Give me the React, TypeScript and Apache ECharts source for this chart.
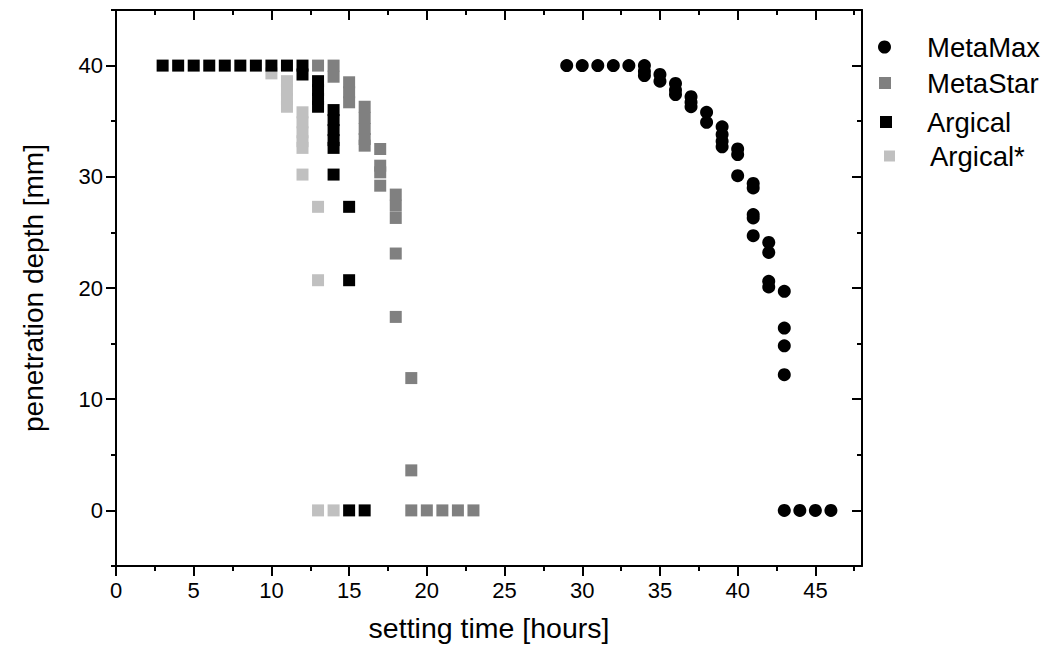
import React, { useEffect, useRef } from "react";
import * as echarts from "echarts";

// ---- data ----
const xMajorTicks = [0, 5, 10, 15, 20, 25, 30, 35, 40, 45];
const xMinorTicks = [2.5, 7.5, 12.5, 17.5, 22.5, 27.5, 32.5, 37.5, 42.5, 47.5];
const yMajorTicks = [0, 10, 20, 30, 40];
const yMinorTicks = [-5, 5, 15, 25, 35, 45];

const seriesNames = ["MetaMax", "MetaStar", "Argical", "Argical*"];

const metaMax: [number, number][] = [
  [29, 40], [30, 40], [31, 40], [32, 40], [33, 40],
  [34, 40], [34, 39.5], [34, 39.1],
  [35, 39.2], [35, 38.6],
  [36, 38.4], [36, 37.8], [36, 37.4],
  [37, 37.2], [37, 36.7], [37, 36.3],
  [38, 35.8], [38, 34.9],
  [39, 34.5], [39, 33.8], [39, 33.2], [39, 32.7],
  [40, 32.5], [40, 32.0], [40, 30.1],
  [41, 29.4], [41, 29.0], [41, 26.6], [41, 26.3], [41, 24.7],
  [42, 24.1], [42, 23.2], [42, 20.6], [42, 20.1],
  [43, 19.7], [43, 16.4], [43, 14.8], [43, 12.2],
  [43, 0], [44, 0], [45, 0], [46, 0],
];

const metaStar: [number, number][] = [
  [13, 40], [14, 40], [14, 39.0],
  [15, 38.5], [15, 37.6], [15, 36.7],
  [16, 36.3], [16, 35.3], [16, 34.3], [16, 33.4], [16, 32.8],
  [17, 32.5], [17, 31.0], [17, 30.4], [17, 29.2],
  [18, 28.4], [18, 27.4], [18, 26.3], [18, 23.1], [18, 17.4],
  [19, 11.9], [19, 3.6],
  [19, 0], [20, 0], [21, 0], [22, 0], [23, 0],
];

const argical: [number, number][] = [
  [3, 40], [4, 40], [5, 40], [6, 40], [7, 40], [8, 40], [9, 40], [10, 40], [11, 40],
  [12, 40], [12, 39.2],
  [13, 38.6], [13, 37.8], [13, 37.0], [13, 36.3],
  [14, 36.0], [14, 35.1], [14, 34.2], [14, 33.3], [14, 32.6],
  [14, 30.2],
  [15, 27.3], [15, 20.7],
  [15, 0], [16, 0],
];

const argicalStar: [number, number][] = [
  [10, 39.3],
  [11, 38.6], [11, 37.8], [11, 37.0], [11, 36.3],
  [12, 35.8], [12, 34.9], [12, 34.0], [12, 33.2], [12, 32.6],
  [12, 30.2],
  [13, 27.3], [13, 20.7],
  [13, 0], [14, 0],
];

const FONT = "'Liberation Sans', Arial, sans-serif";
const BLACK = "#000";
const axisLineStyle = { color: BLACK, width: 2 };

export default function App() {
  const ref = useRef<HTMLDivElement>(null);

  useEffect(() => {
    document.body.style.margin = "0";
    if (!ref.current) return;
    const chart = echarts.init(ref.current, undefined, { renderer: "svg" });

    const xBase = { type: "value", min: 0, max: 48, splitLine: { show: false } } as any;
    const yBase = { type: "value", min: -5, max: 45, splitLine: { show: false } } as any;

    const option: any = {
      animation: false,
      backgroundColor: "#fff",
      textStyle: { fontFamily: FONT },
      grid: { left: 116, right: 188, top: 10, bottom: 93, containLabel: false },
      xAxis: [
        {
          ...xBase,
          position: "bottom",
          axisLine: { show: true, onZero: false, lineStyle: axisLineStyle },
          axisTick: { show: true, inside: false, length: 10, customValues: xMajorTicks, lineStyle: axisLineStyle },
          axisLabel: { show: true, customValues: xMajorTicks, fontSize: 22, color: BLACK, margin: 13, fontFamily: FONT },
          name: "setting time [hours]",
          nameLocation: "middle",
          nameGap: 47,
          nameTextStyle: { fontSize: 28.5, color: BLACK, fontFamily: FONT },
        },
        {
          ...xBase,
          position: "bottom",
          axisLine: { show: false, onZero: false },
          axisTick: { show: true, inside: false, length: 5, customValues: xMinorTicks, lineStyle: axisLineStyle },
          axisLabel: { show: false },
        },
        {
          ...xBase,
          position: "top",
          axisLine: { show: true, onZero: false, lineStyle: axisLineStyle },
          axisTick: { show: true, inside: true, length: 10, customValues: xMajorTicks, lineStyle: axisLineStyle },
          axisLabel: { show: false },
        },
        {
          ...xBase,
          position: "top",
          axisLine: { show: false, onZero: false },
          axisTick: { show: true, inside: true, length: 5, customValues: xMinorTicks, lineStyle: axisLineStyle },
          axisLabel: { show: false },
        },
      ],
      yAxis: [
        {
          ...yBase,
          position: "left",
          axisLine: { show: true, onZero: false, lineStyle: axisLineStyle },
          axisTick: { show: true, inside: false, length: 10, customValues: yMajorTicks, lineStyle: axisLineStyle },
          axisLabel: { show: true, customValues: yMajorTicks, fontSize: 22, color: BLACK, margin: 13, fontFamily: FONT },
          name: "penetration depth [mm]",
          nameLocation: "middle",
          nameGap: 69,
          nameTextStyle: { fontSize: 28, color: BLACK, fontFamily: FONT },
        },
        {
          ...yBase,
          position: "left",
          axisLine: { show: false, onZero: false },
          axisTick: { show: true, inside: false, length: 5, customValues: yMinorTicks, lineStyle: axisLineStyle },
          axisLabel: { show: false },
        },
        {
          ...yBase,
          position: "right",
          axisLine: { show: true, onZero: false, lineStyle: axisLineStyle },
          axisTick: { show: true, inside: true, length: 10, customValues: yMajorTicks, lineStyle: axisLineStyle },
          axisLabel: { show: false },
        },
        {
          ...yBase,
          position: "right",
          axisLine: { show: false, onZero: false },
          axisTick: { show: true, inside: true, length: 5, customValues: yMinorTicks, lineStyle: axisLineStyle },
          axisLabel: { show: false },
        },
      ],
      legend: [
        { name: seriesNames[0], icon: "circle", left: 878, top: 32, w: 13, pad: 31 },
        { name: seriesNames[1], icon: "rect", left: 879, top: 68, w: 12, pad: 31 },
        { name: seriesNames[2], icon: "rect", left: 880, top: 107, w: 12, pad: 30 },
        { name: seriesNames[3], icon: "rect", left: 884, top: 141, w: 11, pad: 30 },
      ].map((l) => ({
        data: [{ name: l.name, icon: l.icon }],
        left: l.left,
        top: l.top,
        orient: "vertical",
        padding: 0,
        itemGap: 0,
        itemWidth: l.w,
        itemHeight: l.w,
        selectedMode: false,
        textStyle: { fontSize: 27.5, color: BLACK, fontFamily: FONT, lineHeight: 30, padding: [0, 0, 0, l.pad] },
      })),
      series: [
        {
          name: seriesNames[3],
          type: "scatter",
          data: argicalStar,
          symbol: "rect",
          symbolSize: 12,
          itemStyle: { color: "#c0c0c0", opacity: 1 },
          z: 2,
        },
        {
          name: seriesNames[1],
          type: "scatter",
          data: metaStar,
          symbol: "rect",
          symbolSize: 12,
          itemStyle: { color: "#808080", opacity: 1 },
          z: 3,
        },
        {
          name: seriesNames[2],
          type: "scatter",
          data: argical,
          symbol: "rect",
          symbolSize: 12,
          itemStyle: { color: "#000000", opacity: 1 },
          z: 4,
        },
        {
          name: seriesNames[0],
          type: "scatter",
          data: metaMax,
          symbol: "circle",
          symbolSize: 13,
          itemStyle: { color: "#000000", opacity: 1 },
          z: 5,
        },
      ],
    };

    chart.setOption(option);
    return () => chart.dispose();
  }, []);

  return <div ref={ref} style={{ width: 1050, height: 659 }} />;
}
